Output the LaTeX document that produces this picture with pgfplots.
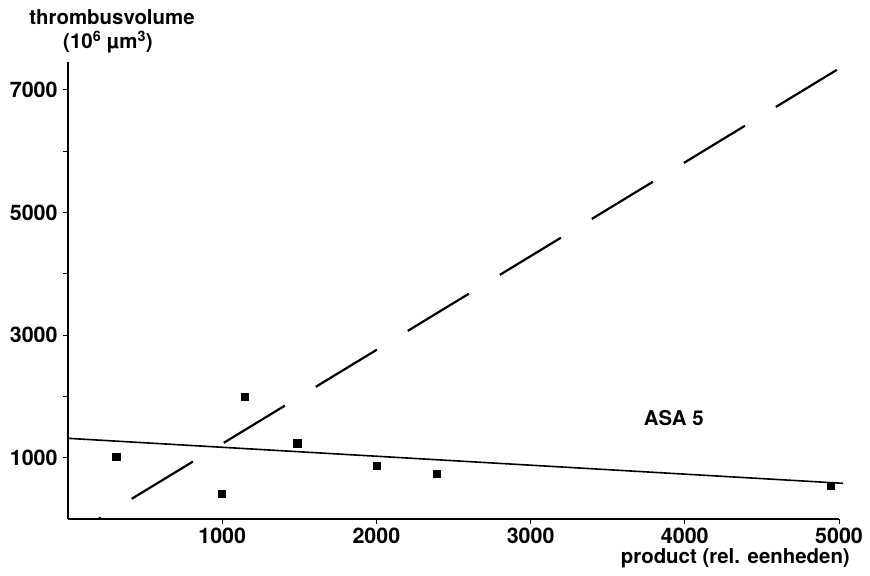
\documentclass[border=0pt]{standalone}
\usepackage{fontspec}
\setmainfont{TeX Gyre Heros}
\usepackage{pgfplots}
\pgfplotsset{compat=1.18}
\newcommand{\lbl}{\fontsize{20.5}{24}\selectfont\bfseries}
\newcommand{\tlbl}{\fontsize{21.5}{24}\selectfont\bfseries}
\begin{document}
\begin{tikzpicture}
\useasboundingbox (-68bp,-57bp) rectangle (802bp,519bp);
\begin{axis}[
  at={(0,0)}, anchor=south west,
  scale only axis, width=771bp, height=457bp,
  xmin=0, xmax=5000, ymin=0, ymax=7455,
  axis x line*=bottom, axis y line*=left,
  axis line style={line width=1.4bp,-},
  xtick={1000,2000,3000,4000,5000},
  ytick={1000,2000,3000,4000,5000,6000,7000},
  yticklabels={1000,,3000,,5000,,7000},
  tick align=outside, major tick length=5bp,
  tick style={line width=1bp,black},
  ticklabel style={font=\tlbl},
  xticklabel style={inner sep=1bp, yshift=-2.3bp},
  yticklabel style={xshift=-2bp},
  /pgf/number format/assume math mode=true,
  /pgf/number format/set thousands separator={},
  clip=false,
]
\addplot[only marks, mark=square*, mark size=3.6bp, black]
  coordinates {(313,1016)(999,419)(1148,1990)(1487,1235)(2002,865)(2391,739)(4948,538)};
\addplot[black, line width=1.6bp] coordinates {(0,1316)(5026,582)};
\addplot[black, line width=2.2bp, dash pattern=on 71.5bp off 36.2bp, dash phase=68.8bp]
  coordinates {(198,0)(4992,7336)};
\node[font=\lbl] at (axis cs:3929,1642) {ASA 5};
\end{axis}
\node[font=\lbl] at (44bp,502bp) {thrombusvolume};
\node[font=\lbl] at (40bp,477bp) {(10\textsuperscript{6} µm\textsuperscript{3})};
\node[font=\lbl, anchor=east, inner sep=0pt] at (782bp,-39bp) {product (rel. eenheden)};
\end{tikzpicture}
\end{document}
